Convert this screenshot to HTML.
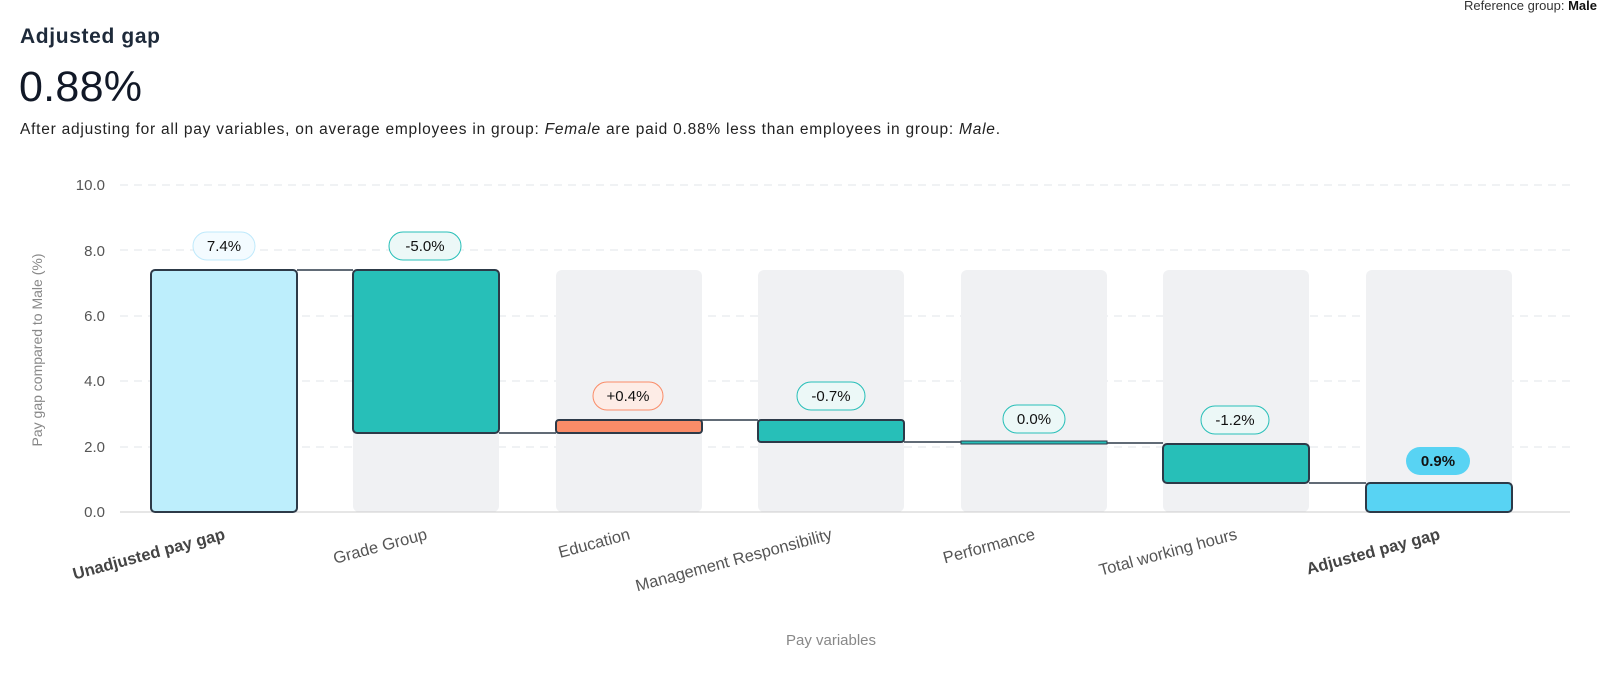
<!DOCTYPE html>
<html><head><meta charset="utf-8"><style>
body{margin:0;background:#fff;width:1600px;height:684px;overflow:hidden;font-family:"Liberation Sans",sans-serif}
</style></head><body>
<svg width="1600" height="684" xmlns="http://www.w3.org/2000/svg" font-family="Liberation Sans, sans-serif">
<text x="1597" y="10" text-anchor="end" font-size="13" fill="#333">Reference group: <tspan font-weight="bold" fill="#111">Male</tspan></text>
<text x="20" y="43" font-size="21" font-weight="bold" fill="#1e2a3a" textLength="140">Adjusted gap</text>
<text x="19" y="101" font-size="43" fill="#111827" textLength="123">0.88%</text>
<text x="20" y="134" font-size="15.5" fill="#222" textLength="980">After adjusting for all pay variables, on average employees in group: <tspan font-style="italic">Female</tspan> are paid 0.88% less than employees in group: <tspan font-style="italic">Male</tspan>.</text>
<g font-size="15" fill="#555" text-anchor="end">
<text x="105" y="190">10.0</text><text x="105" y="256">8.0</text><text x="105" y="321">6.0</text><text x="105" y="386">4.0</text><text x="105" y="452">2.0</text><text x="105" y="517">0.0</text></g>
<g stroke="#e2e4e8" stroke-dasharray="8,6" stroke-width="1">
<line x1="120" y1="185" x2="1570" y2="185"/><line x1="120" y1="250" x2="1570" y2="250"/><line x1="120" y1="316" x2="1570" y2="316"/><line x1="120" y1="381" x2="1570" y2="381"/><line x1="120" y1="447" x2="1570" y2="447"/></g>
<text transform="translate(42,350) rotate(-90)" text-anchor="middle" font-size="14" fill="#888">Pay gap compared to Male (%)</text>
<g fill="#f0f1f3">
<rect x="353" y="270" width="146" height="242" rx="6"/><rect x="556" y="270" width="146" height="242" rx="6"/><rect x="758" y="270" width="146" height="242" rx="6"/><rect x="961" y="270" width="146" height="242" rx="6"/><rect x="1163" y="270" width="146" height="242" rx="6"/><rect x="1366" y="270" width="146" height="242" rx="6"/></g>
<line x1="120" y1="512" x2="1570" y2="512" stroke="#ccc"/>
<g stroke="#2d3a48" stroke-width="1.5">
<line x1="297" y1="270" x2="353" y2="270"/><line x1="499" y1="433" x2="556" y2="433"/><line x1="701" y1="420" x2="758" y2="420"/><line x1="904" y1="442" x2="961" y2="442"/><line x1="1106" y1="443" x2="1163" y2="443"/><line x1="1309" y1="483" x2="1366" y2="483"/></g>
<g stroke="#2d3a48" stroke-width="2">
<rect x="151" y="270" width="146" height="242" rx="4" fill="#bdeefc"/>
<rect x="353" y="270" width="146" height="163" rx="4" fill="#27bfb8"/>
<rect x="556" y="420" width="146" height="13" rx="3" fill="#fa8c68"/>
<rect x="758" y="420" width="146" height="22" rx="3" fill="#27bfb8"/>
<rect x="961" y="441" width="146" height="3" fill="#27bfb8" stroke-width="1"/>
<rect x="1163" y="444" width="146" height="39" rx="4" fill="#27bfb8"/>
<rect x="1366" y="483" width="146" height="29" rx="4" fill="#58d3f3"/></g>
<g font-size="15" text-anchor="middle" fill="#111">
<rect x="193" y="232" width="62" height="28" rx="14" fill="#f3fbff" stroke="#bfe9fb"/><text x="224" y="251">7.4%</text>
<rect x="389" y="232" width="72" height="28" rx="14" fill="#ecf8f7" stroke="#27bfb8"/><text x="425" y="251">-5.0%</text>
<rect x="593" y="382" width="70" height="28" rx="14" fill="#fdece6" stroke="#fa8c68"/><text x="628" y="401">+0.4%</text>
<rect x="797" y="382" width="68" height="28" rx="14" fill="#ecf8f7" stroke="#27bfb8"/><text x="831" y="401">-0.7%</text>
<rect x="1003" y="405" width="62" height="28" rx="14" fill="#ecf8f7" stroke="#27bfb8"/><text x="1034" y="424">0.0%</text>
<rect x="1201" y="406" width="68" height="28" rx="14" fill="#ecf8f7" stroke="#27bfb8"/><text x="1235" y="425">-1.2%</text>
<rect x="1406" y="447" width="64" height="28" rx="14" fill="#58d3f3"/><text x="1438" y="466" font-weight="bold">0.9%</text></g>
<g font-size="16.5" fill="#555" text-anchor="end">
<text transform="translate(226,539) rotate(-15)" font-weight="bold" fill="#444">Unadjusted pay gap</text>
<text transform="translate(428,539) rotate(-15)">Grade Group</text>
<text transform="translate(631,539) rotate(-15)">Education</text>
<text transform="translate(833,539) rotate(-15)">Management Responsibility</text>
<text transform="translate(1036,539) rotate(-15)">Performance</text>
<text transform="translate(1238,539) rotate(-15)">Total working hours</text>
<text transform="translate(1441,539) rotate(-15)" font-weight="bold" fill="#444">Adjusted pay gap</text></g>
<text x="831" y="645" text-anchor="middle" font-size="15" fill="#888">Pay variables</text>
</svg>
</body></html>
